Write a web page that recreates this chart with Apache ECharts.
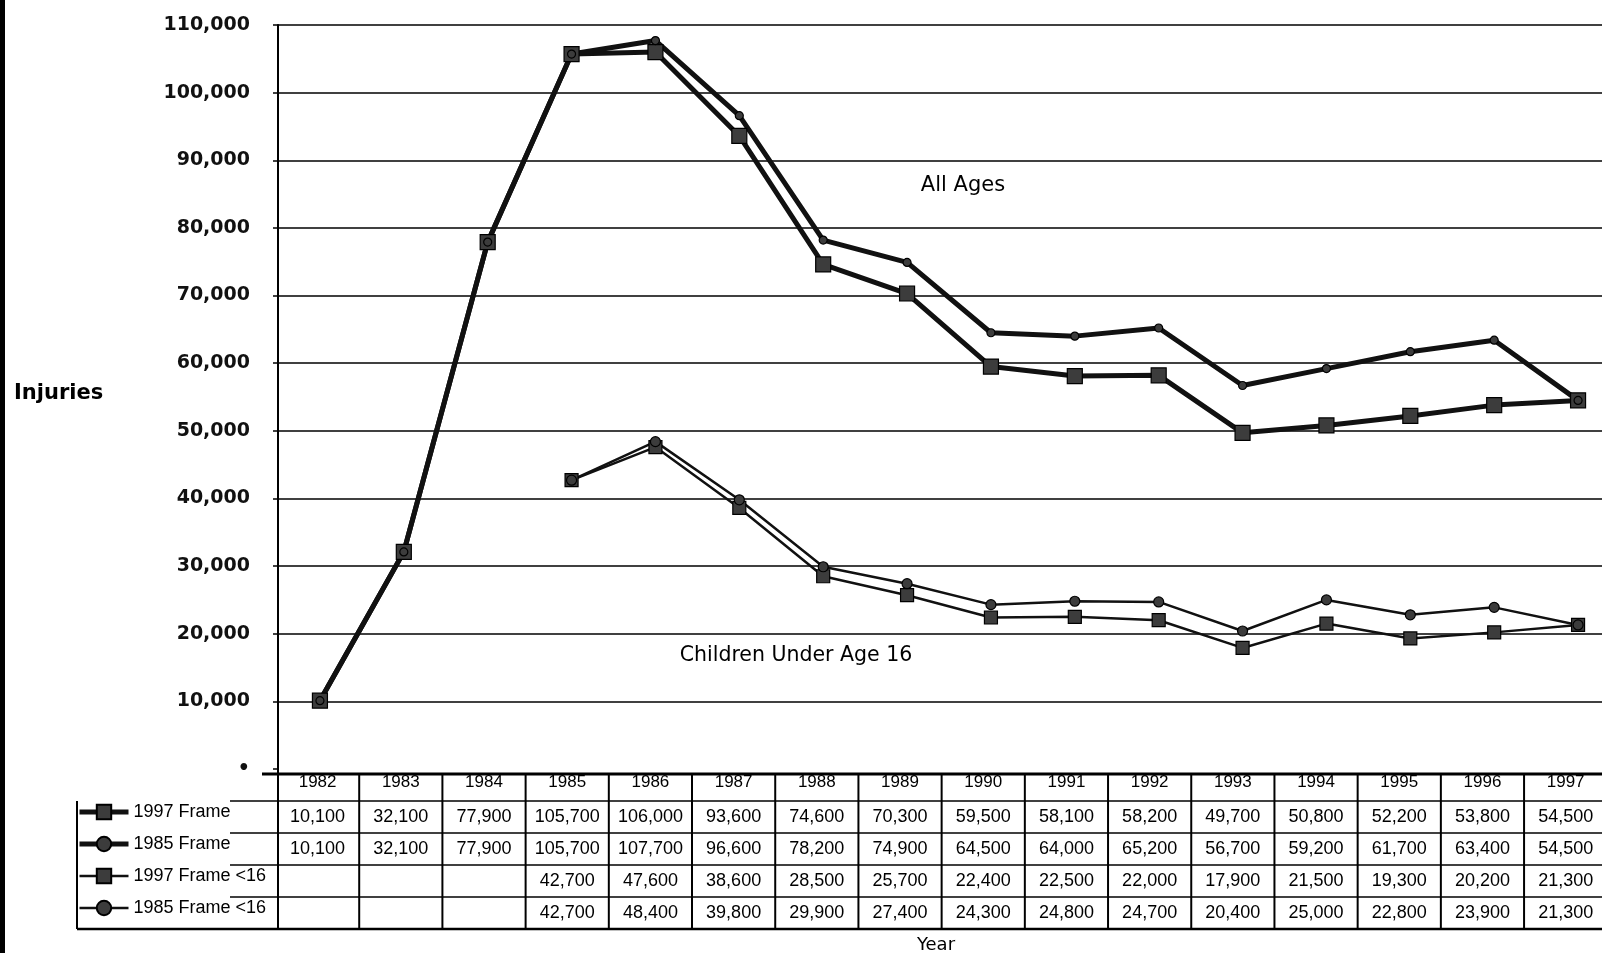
<!DOCTYPE html>
<html>
<head>
<meta charset="utf-8">
<script src="https://cdn.jsdelivr.net/npm/echarts@6/dist/echarts.min.js"></script>
<style>
  html, body { margin: 0; padding: 0; background: #fff; }
  #chart { width: 1602px; height: 953px; }
</style>
</head>
<body>
<div id="chart"></div>
<script>
const years = ['1982', '1983', '1984', '1985', '1986', '1987', '1988', '1989',
  '1990', '1991', '1992', '1993', '1994', '1995', '1996', '1997'];
const frame1997 = [10100, 32100, 77900, 105700, 106000, 93600, 74600, 70300,
  59500, 58100, 58200, 49700, 50800, 52200, 53800, 54500];
const frame1985 = [10100, 32100, 77900, 105700, 107700, 96600, 78200, 74900,
  64500, 64000, 65200, 56700, 59200, 61700, 63400, 54500];
const frame1997Under16 = [null, null, null, 42700, 47600, 38600, 28500, 25700,
  22400, 22500, 22000, 17900, 21500, 19300, 20200, 21300];
const frame1985Under16 = [null, null, null, 42700, 48400, 39800, 29900, 27400,
  24300, 24800, 24700, 20400, 25000, 22800, 23900, 21300];
const seriesNames = ['1997 Frame', '1985 Frame', '1997 Frame <16', '1985 Frame <16'];
const yMin = 0;
const yMax = 110000;
const yStep = 10000;

const FONT = 'Liberation Sans, Arial, sans-serif';
const WIDE = 'DejaVu Sans, sans-serif';
const lineWidths = [5, 5, 2.5, 2.5];

let chart = echarts.init(document.getElementById('chart'));

function lineSeries(name, data, width, symbol, size) {
  return {
    name: name,
    type: 'line',
    data: data,
    symbol: symbol,
    symbolSize: size,
    showSymbol: true,
    connectNulls: false,
    lineStyle: {color: '#111', width: width},
    itemStyle: {color: '#3c3c3c', borderColor: '#000', borderWidth: 1.2},
    emphasis: {disabled: true},
    z: 3
  };
}

// no grid line at zero, the table border sits there instead
let gridColors = [];
for (let v = yMin; v <= yMax; v += yStep) {
  gridColors.push(v === yMin ? 'rgba(0,0,0,0)' : '#000');
}

chart.setOption({
  animation: false,
  textStyle: {fontFamily: FONT, color: '#000'},
  grid: {left: 278, top: 25, width: 1342, height: 744, containLabel: false, outerBoundsMode: 'none'},
  xAxis: {
    type: 'category',
    data: years,
    boundaryGap: true,
    axisLine: {show: false},
    axisTick: {show: false},
    axisLabel: {show: false},
    splitLine: {show: false}
  },
  yAxis: {
    type: 'value',
    min: yMin,
    max: yMax,
    interval: yStep,
    axisLine: {show: true, lineStyle: {color: '#000', width: 2}},
    axisTick: {show: true, inside: false, length: 5, lineStyle: {color: '#000', width: 1.5}},
    axisLabel: {
      margin: 28,
      fontFamily: WIDE,
      fontWeight: 'bold',
      fontSize: 19,
      color: '#111',
      formatter: function (v) {
        return v === 0 ? '•' : v.toLocaleString('en-US');
      }
    },
    splitLine: {show: true, lineStyle: {color: gridColors, width: 1.5}}
  },
  legend: {
    orient: 'vertical',
    left: 77,
    top: 803,
    padding: 0,
    itemWidth: 49,
    itemHeight: 18,
    itemGap: 14,
    selectedMode: false,
    textStyle: {fontFamily: FONT, fontSize: 18, color: '#000', lineHeight: 18},
    data: seriesNames.map(function (n, i) {
      return {name: n, lineStyle: {width: lineWidths[i], color: '#111'}};
    })
  },
  series: [
    lineSeries(seriesNames[0], frame1997, lineWidths[0], 'rect', 15),
    lineSeries(seriesNames[1], frame1985, lineWidths[1], 'circle', 8),
    lineSeries(seriesNames[2], frame1997Under16, lineWidths[2], 'rect', 13),
    lineSeries(seriesNames[3], frame1985Under16, lineWidths[3], 'circle', 10)
  ]
});

/*
* 数据表格 (years + values under the plot)
* */
function drawTable() {
  const x0 = chart.convertToPixel({xAxisIndex: 0}, 0);
  const step = chart.convertToPixel({xAxisIndex: 0}, 1) - x0;
  // the printed table is a touch narrower than the plot columns
  const colW = step * 0.992;
  const colLeft = x0 - step / 2 - 2;
  const top = chart.convertToPixel({yAxisIndex: 0}, 0) + 5;
  const headerH = 27;
  const rowH = 32;
  const bottom = top + headerH + rowH * 4;
  const rows = [frame1997, frame1985, frame1997Under16, frame1985Under16];
  const els = [];

  // page border and labels
  els.push({type: 'rect', shape: {x: 0, y: 0, width: 5, height: 953}, style: {fill: '#000'}});
  els.push({type: 'text', x: 14, y: 394, style: {text: 'Injuries', font: 'bold 21px ' + WIDE, fill: '#000', verticalAlign: 'middle'}});
  els.push({type: 'text', x: 963, y: 186, style: {text: 'All Ages', font: '21px ' + WIDE, fill: '#000', align: 'center', verticalAlign: 'middle'}});
  els.push({type: 'text', x: 796, y: 656, style: {text: 'Children Under Age 16', font: '20.5px ' + WIDE, fill: '#000', align: 'center', verticalAlign: 'middle'}});
  els.push({type: 'text', x: 936, y: 945, style: {text: 'Year', font: '18px ' + WIDE, fill: '#000', align: 'center', verticalAlign: 'middle'}});

  // table grid
  els.push({type: 'line', shape: {x1: 262, y1: top, x2: 1602, y2: top}, style: {stroke: '#000', lineWidth: 3}});
  for (let r = 0; r < 4; r++) {
    const y = top + headerH + r * rowH;
    els.push({type: 'line', shape: {x1: 230, y1: y, x2: 1602, y2: y}, style: {stroke: '#000', lineWidth: 1.5}});
  }
  els.push({type: 'line', shape: {x1: 77, y1: bottom, x2: 1602, y2: bottom}, style: {stroke: '#000', lineWidth: 2.5}});
  els.push({type: 'line', shape: {x1: 77, y1: top + headerH, x2: 77, y2: bottom}, style: {stroke: '#000', lineWidth: 2}});
  for (let k = 1; k <= years.length; k++) {
    const x = colLeft + k * colW;
    els.push({type: 'line', shape: {x1: x, y1: top, x2: x, y2: bottom}, style: {stroke: '#000', lineWidth: 2}});
  }
  els.push({type: 'line', shape: {x1: colLeft + 2, y1: top - 5, x2: colLeft + 2, y2: bottom}, style: {stroke: '#000', lineWidth: 2}});

  // cell texts
  years.forEach(function (yr, i) {
    const cx = colLeft + (i + 0.5) * colW;
    els.push({type: 'text', x: cx, y: top + 8, style: {text: yr, font: '17px ' + FONT, fill: '#000', align: 'center', verticalAlign: 'middle'}});
    rows.forEach(function (row, r) {
      if (row[i] == null) return;
      els.push({
        type: 'text', x: cx, y: top + headerH + r * rowH + rowH / 2,
        style: {text: row[i].toLocaleString('en-US'), font: '18px ' + FONT, fill: '#000', align: 'center', verticalAlign: 'middle'}
      });
    });
  });

  chart.setOption({graphic: els});
}

drawTable();
</script>
</body>
</html>
